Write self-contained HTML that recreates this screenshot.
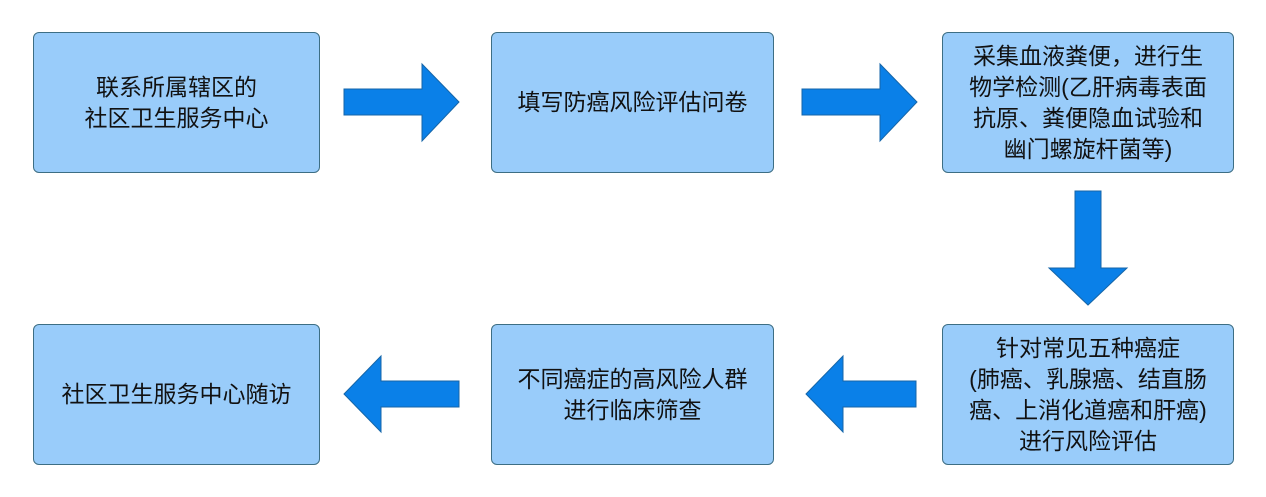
<!DOCTYPE html>
<html><head><meta charset="utf-8"><style>
body{margin:0;width:1266px;height:497px;background:#fff;position:relative;overflow:hidden;font-family:"Liberation Sans","Noto Sans CJK SC",sans-serif;}
.b{position:absolute;box-sizing:border-box;background:#99ccfa;border:1.5px solid #3d6e84;border-radius:6px;display:flex;align-items:center;justify-content:center;text-align:center;font-size:23px;line-height:31px;color:#111;}
svg{position:absolute;left:0;top:0}
</style></head><body>
<div class="b" style="left:33px;top:32px;width:287px;height:141px">联系所属辖区的<br>社区卫生服务中心</div>
<div class="b" style="left:491px;top:32px;width:283px;height:141px">填写防癌风险评估问卷</div>
<div class="b" style="left:942px;top:32px;width:292px;height:141px">采集血液粪便，进行生<br>物学检测(乙肝病毒表面<br>抗原、粪便隐血试验和<br>幽门螺旋杆菌等)</div>
<div class="b" style="left:33px;top:324px;width:287px;height:141px">社区卫生服务中心随访</div>
<div class="b" style="left:491px;top:324px;width:283px;height:141px">不同癌症的高风险人群<br>进行临床筛查</div>
<div class="b" style="left:942px;top:324px;width:292px;height:141px">针对常见五种癌症<br>(肺癌、乳腺癌、结直肠<br>癌、上消化道癌和肝癌)<br>进行风险评估</div>
<svg width="1266" height="497">
<g fill="#0a80e8" stroke="#1565a8" stroke-width="1">
<polygon points="344,89 422,89 422,64 459,102 422,141 422,115 344,115"/>
<polygon points="802,89 880,89 880,64 917,102 880,141 880,115 802,115"/>
<polygon points="1075,191 1101,191 1101,268 1127,268 1088,305 1049,268 1075,268"/>
<polygon points="916,381 843,381 843,356 806,394 843,432 843,407 916,407"/>
<polygon points="459,381 381,381 381,356 344,394 381,432 381,407 459,407"/>
</g></svg>
</body></html>
